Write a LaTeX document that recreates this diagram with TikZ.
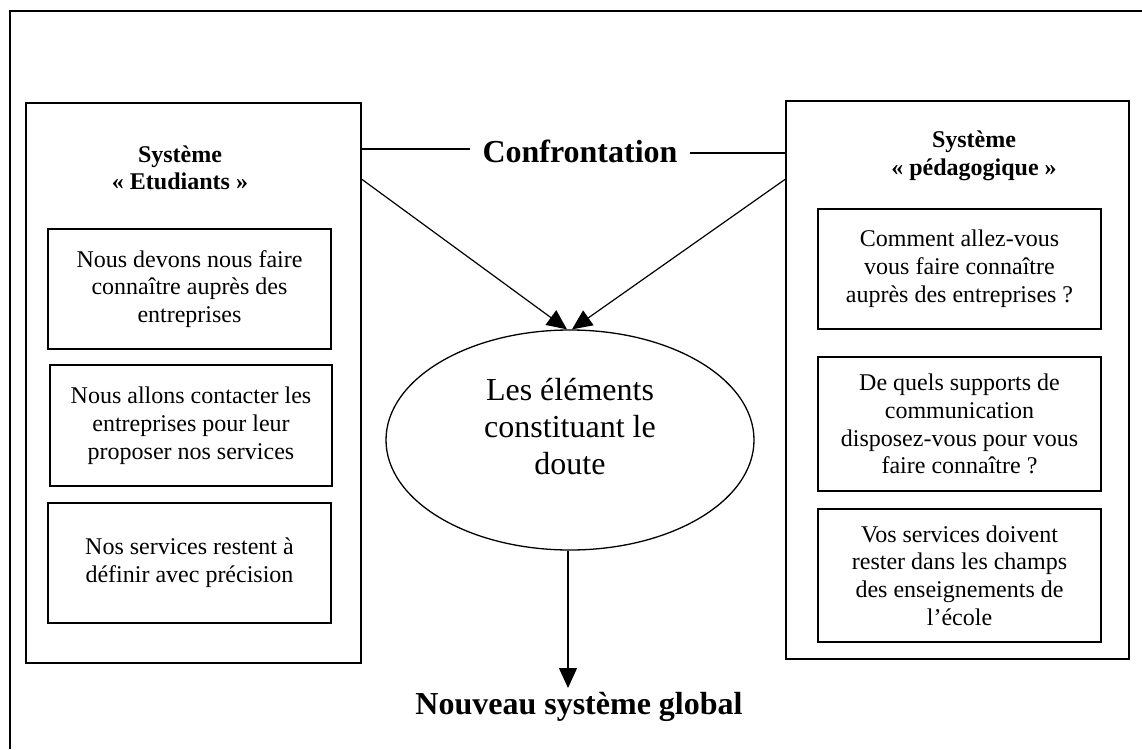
\documentclass[tikz,border=0pt]{standalone}
\usepackage{fontspec}
\setmainfont{Liberation Serif}
\usetikzlibrary{arrows.meta,shapes.geometric}
\begin{document}
\begin{tikzpicture}[x=1pt,y=-1pt,
  frame/.style={line width=1.6pt},
  sysbox/.style={draw,line width=1.5pt,inner sep=0pt},
  itembox/.style={draw,line width=1.4pt,inner sep=0pt,minimum width=283pt,align=center,
     font=\fontsize{24}{27.8}\selectfont},
  systitle/.style={align=center,inner sep=0pt,font=\bfseries\fontsize{24}{27.5}\selectfont},
  bigbold/.style={inner sep=0pt,font=\bfseries\fontsize{32}{37}\selectfont},
  conn/.style={line width=1.2pt},
  arr/.style={line width=1.2pt,-{Triangle[length=20pt,width=18pt]}}]
\useasboundingbox (0,0) rectangle (1142,749);
% outer frame (only top and left visible)
\coordinate (fa) at (1142,11);
\coordinate (fb) at (10,11);
\coordinate (fc) at (10,749);
\draw[frame] (fa) -- (fb) -- (fc);

% left system
\node[sysbox,minimum width=335pt,minimum height=560pt] (L) at (193.5,383) {};
\node[systitle] (Lt) at (180,168) {Système\\«~Etudiants~»};
\node[itembox,minimum height=120pt] (L1) at (189.5,289) {Nous devons nous faire\\connaître auprès des\\entreprises};
\node[itembox,minimum width=282pt,minimum height=121pt] (L2) at (191,425.5) {Nous allons contacter les\\entreprises pour leur\\proposer nos services};
\node[itembox,minimum height=120pt] (L3) at (189.5,563) {Nos services restent à\\définir avec précision};

% right system
\node[sysbox,minimum width=343pt,minimum height=558pt] (R) at (957.5,380) {};
\node[systitle] (Rt) at (974,156) {Système\\«~pédagogique~»};
\node[itembox,minimum height=120pt] (R1) at (959.5,269) {Comment allez-vous\\vous faire connaître\\auprès des entreprises~?};
\node[itembox,minimum height=134pt] (R2) at (959.5,424) {De quels supports de\\communication\\disposez-vous pour vous\\faire connaître~?};
\node[itembox,minimum height=133pt] (R3) at (959.5,575.5) {Vos services doivent\\rester dans les champs\\des enseignements de\\l’école};

% confrontation
\node[bigbold,inner xsep=12pt] (conf) at (580,151) {Confrontation};
\draw[conn] (L.east |- conf.west) ++(0,-2) coordinate (cl) (cl) -- (conf.west |- cl);
\draw[conn] (conf.east) ++(0,2) coordinate (cr) (cr) -- (R.west |- cr);

% ellipse
\node[draw,ellipse,line width=1.3pt,minimum width=368pt,minimum height=220pt,inner sep=0pt] (ell) at (570,440) {};
\node[inner sep=0pt,align=center,font=\fontsize{32}{37}\selectfont] (ellt) at (570,427) {Les éléments\\constituant le\\doute};

\draw[arr] ([yshift=-77pt]L.north east) -- ([xshift=-3pt]ell.north);
\draw[arr] ([yshift=-79pt]R.north west) -- ([xshift=2pt]ell.north);

% result
\node[bigbold] (news) at (579,707) {Nouveau système global};
\coordinate (ntip) at (568,688);
\draw[arr] (ell.south -| ntip) -- (ntip);
\end{tikzpicture}
\end{document}
